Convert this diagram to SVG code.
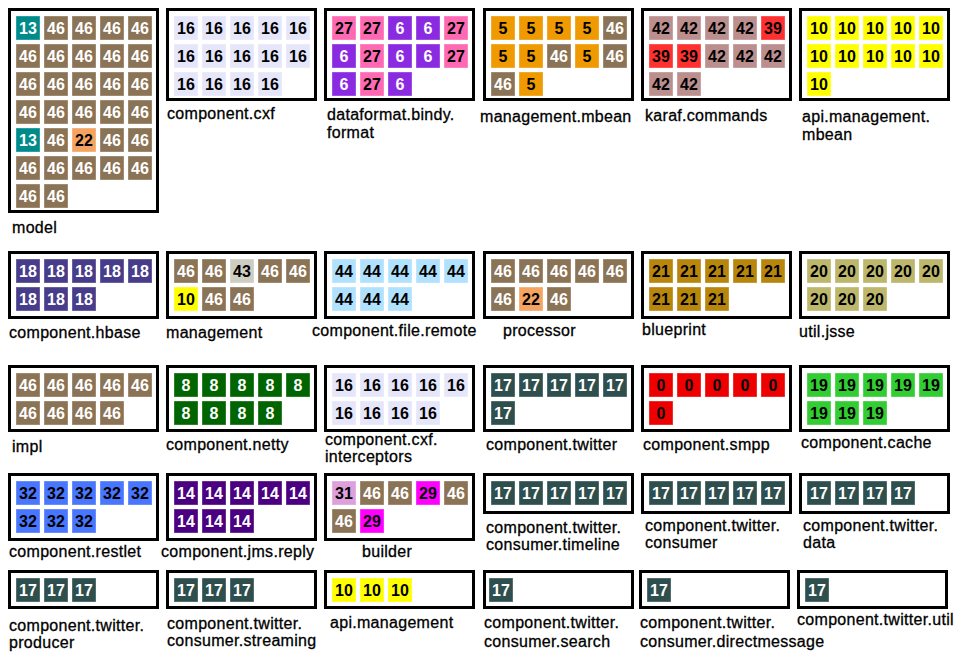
<svg xmlns="http://www.w3.org/2000/svg" width="964" height="655" viewBox="0 0 964 655">
<style>
.box{fill:#fff;stroke:#000;stroke-width:3}
.c{stroke:#fff;stroke-opacity:.35;stroke-width:1}
.n{font-family:"Liberation Sans",Arial,sans-serif;font-weight:bold;font-size:16px;text-anchor:middle}
.w{fill:#fff}.d{fill:#000}
.lb{font-family:"Liberation Sans",Arial,sans-serif;font-size:16px;fill:#000;stroke:#000;stroke-width:.3;letter-spacing:.3px}
.k13{fill:#008b8b}.k46{fill:#8b7355}.k22{fill:#f4a460}.k16{fill:#e6e6fa}.k27{fill:#ff69b4}.k6{fill:#8a2be2}
.k5{fill:#ee9a00}.k42{fill:#bc8f8f}.k39{fill:#ff3030}.k10{fill:#ffff00}.k18{fill:#483d8b}.k43{fill:#cdcdc1}
.k44{fill:#b0e2ff}.k21{fill:#b8860b}.k20{fill:#bdb76b}.k8{fill:#006400}.k17{fill:#2f4f4f}.k0{fill:#ee0000}
.k19{fill:#32cd32}.k32{fill:#4876ff}.k14{fill:#4b0082}.k31{fill:#dda0dd}.k29{fill:#ff00ff}
</style>
<rect width="964" height="655" fill="#fff"/>
<g id="connectors"/>

<g id="model">
<rect class="box" x="9.5" y="9.5" width="148" height="202"/>
<rect class="c k13" x="16" y="16" width="24" height="24"/><text class="n w" x="28" y="34">13</text>
<rect class="c k46" x="44" y="16" width="24" height="24"/><text class="n w" x="56" y="34">46</text>
<rect class="c k46" x="72" y="16" width="24" height="24"/><text class="n w" x="84" y="34">46</text>
<rect class="c k46" x="100" y="16" width="24" height="24"/><text class="n w" x="112" y="34">46</text>
<rect class="c k46" x="128" y="16" width="24" height="24"/><text class="n w" x="140" y="34">46</text>
<rect class="c k46" x="16" y="44" width="24" height="24"/><text class="n w" x="28" y="62">46</text>
<rect class="c k46" x="44" y="44" width="24" height="24"/><text class="n w" x="56" y="62">46</text>
<rect class="c k46" x="72" y="44" width="24" height="24"/><text class="n w" x="84" y="62">46</text>
<rect class="c k46" x="100" y="44" width="24" height="24"/><text class="n w" x="112" y="62">46</text>
<rect class="c k46" x="128" y="44" width="24" height="24"/><text class="n w" x="140" y="62">46</text>
<rect class="c k46" x="16" y="72" width="24" height="24"/><text class="n w" x="28" y="90">46</text>
<rect class="c k46" x="44" y="72" width="24" height="24"/><text class="n w" x="56" y="90">46</text>
<rect class="c k46" x="72" y="72" width="24" height="24"/><text class="n w" x="84" y="90">46</text>
<rect class="c k46" x="100" y="72" width="24" height="24"/><text class="n w" x="112" y="90">46</text>
<rect class="c k46" x="128" y="72" width="24" height="24"/><text class="n w" x="140" y="90">46</text>
<rect class="c k46" x="16" y="100" width="24" height="24"/><text class="n w" x="28" y="118">46</text>
<rect class="c k46" x="44" y="100" width="24" height="24"/><text class="n w" x="56" y="118">46</text>
<rect class="c k46" x="72" y="100" width="24" height="24"/><text class="n w" x="84" y="118">46</text>
<rect class="c k46" x="100" y="100" width="24" height="24"/><text class="n w" x="112" y="118">46</text>
<rect class="c k46" x="128" y="100" width="24" height="24"/><text class="n w" x="140" y="118">46</text>
<rect class="c k13" x="16" y="128" width="24" height="24"/><text class="n w" x="28" y="146">13</text>
<rect class="c k46" x="44" y="128" width="24" height="24"/><text class="n w" x="56" y="146">46</text>
<rect class="c k22" x="72" y="128" width="24" height="24"/><text class="n d" x="84" y="146">22</text>
<rect class="c k46" x="100" y="128" width="24" height="24"/><text class="n w" x="112" y="146">46</text>
<rect class="c k46" x="128" y="128" width="24" height="24"/><text class="n w" x="140" y="146">46</text>
<rect class="c k46" x="16" y="156" width="24" height="24"/><text class="n w" x="28" y="174">46</text>
<rect class="c k46" x="44" y="156" width="24" height="24"/><text class="n w" x="56" y="174">46</text>
<rect class="c k46" x="72" y="156" width="24" height="24"/><text class="n w" x="84" y="174">46</text>
<rect class="c k46" x="100" y="156" width="24" height="24"/><text class="n w" x="112" y="174">46</text>
<rect class="c k46" x="128" y="156" width="24" height="24"/><text class="n w" x="140" y="174">46</text>
<rect class="c k46" x="16" y="184" width="24" height="24"/><text class="n w" x="28" y="202">46</text>
<rect class="c k46" x="44" y="184" width="24" height="24"/><text class="n w" x="56" y="202">46</text>
<text class="lb" x="12" y="233">model</text>
</g>

<g id="component.cxf">
<rect class="box" x="167.5" y="9.5" width="148" height="90"/>
<rect class="c k16" x="174" y="16" width="24" height="24"/><text class="n d" x="186" y="34">16</text>
<rect class="c k16" x="202" y="16" width="24" height="24"/><text class="n d" x="214" y="34">16</text>
<rect class="c k16" x="230" y="16" width="24" height="24"/><text class="n d" x="242" y="34">16</text>
<rect class="c k16" x="258" y="16" width="24" height="24"/><text class="n d" x="270" y="34">16</text>
<rect class="c k16" x="286" y="16" width="24" height="24"/><text class="n d" x="298" y="34">16</text>
<rect class="c k16" x="174" y="44" width="24" height="24"/><text class="n d" x="186" y="62">16</text>
<rect class="c k16" x="202" y="44" width="24" height="24"/><text class="n d" x="214" y="62">16</text>
<rect class="c k16" x="230" y="44" width="24" height="24"/><text class="n d" x="242" y="62">16</text>
<rect class="c k16" x="258" y="44" width="24" height="24"/><text class="n d" x="270" y="62">16</text>
<rect class="c k16" x="286" y="44" width="24" height="24"/><text class="n d" x="298" y="62">16</text>
<rect class="c k16" x="174" y="72" width="24" height="24"/><text class="n d" x="186" y="90">16</text>
<rect class="c k16" x="202" y="72" width="24" height="24"/><text class="n d" x="214" y="90">16</text>
<rect class="c k16" x="230" y="72" width="24" height="24"/><text class="n d" x="242" y="90">16</text>
<rect class="c k16" x="258" y="72" width="24" height="24"/><text class="n d" x="270" y="90">16</text>
<text class="lb" x="167" y="119">component.cxf</text>
</g>

<g id="dataformat.bindy.format">
<rect class="box" x="325.5" y="9.5" width="148" height="90"/>
<rect class="c k27" x="332" y="16" width="24" height="24"/><text class="n d" x="344" y="34">27</text>
<rect class="c k27" x="360" y="16" width="24" height="24"/><text class="n d" x="372" y="34">27</text>
<rect class="c k6" x="388" y="16" width="24" height="24"/><text class="n w" x="400" y="34">6</text>
<rect class="c k6" x="416" y="16" width="24" height="24"/><text class="n w" x="428" y="34">6</text>
<rect class="c k27" x="444" y="16" width="24" height="24"/><text class="n d" x="456" y="34">27</text>
<rect class="c k6" x="332" y="44" width="24" height="24"/><text class="n w" x="344" y="62">6</text>
<rect class="c k27" x="360" y="44" width="24" height="24"/><text class="n d" x="372" y="62">27</text>
<rect class="c k6" x="388" y="44" width="24" height="24"/><text class="n w" x="400" y="62">6</text>
<rect class="c k6" x="416" y="44" width="24" height="24"/><text class="n w" x="428" y="62">6</text>
<rect class="c k27" x="444" y="44" width="24" height="24"/><text class="n d" x="456" y="62">27</text>
<rect class="c k6" x="332" y="72" width="24" height="24"/><text class="n w" x="344" y="90">6</text>
<rect class="c k27" x="360" y="72" width="24" height="24"/><text class="n d" x="372" y="90">27</text>
<rect class="c k6" x="388" y="72" width="24" height="24"/><text class="n w" x="400" y="90">6</text>
<text class="lb" x="327" y="120">dataformat.bindy.</text>
<text class="lb" x="327" y="138">format</text>
</g>

<g id="management.mbean">
<rect class="box" x="484.5" y="9.5" width="148" height="90"/>
<rect class="c k5" x="491" y="16" width="24" height="24"/><text class="n d" x="503" y="34">5</text>
<rect class="c k5" x="519" y="16" width="24" height="24"/><text class="n d" x="531" y="34">5</text>
<rect class="c k5" x="547" y="16" width="24" height="24"/><text class="n d" x="559" y="34">5</text>
<rect class="c k5" x="575" y="16" width="24" height="24"/><text class="n d" x="587" y="34">5</text>
<rect class="c k46" x="603" y="16" width="24" height="24"/><text class="n w" x="615" y="34">46</text>
<rect class="c k5" x="491" y="44" width="24" height="24"/><text class="n d" x="503" y="62">5</text>
<rect class="c k5" x="519" y="44" width="24" height="24"/><text class="n d" x="531" y="62">5</text>
<rect class="c k46" x="547" y="44" width="24" height="24"/><text class="n w" x="559" y="62">46</text>
<rect class="c k5" x="575" y="44" width="24" height="24"/><text class="n d" x="587" y="62">5</text>
<rect class="c k46" x="603" y="44" width="24" height="24"/><text class="n w" x="615" y="62">46</text>
<rect class="c k46" x="491" y="72" width="24" height="24"/><text class="n w" x="503" y="90">46</text>
<rect class="c k5" x="519" y="72" width="24" height="24"/><text class="n d" x="531" y="90">5</text>
<text class="lb" x="480" y="122">management.mbean</text>
</g>

<g id="karaf.commands">
<rect class="box" x="642.5" y="9.5" width="148" height="90"/>
<rect class="c k42" x="649" y="16" width="24" height="24"/><text class="n d" x="661" y="34">42</text>
<rect class="c k42" x="677" y="16" width="24" height="24"/><text class="n d" x="689" y="34">42</text>
<rect class="c k42" x="705" y="16" width="24" height="24"/><text class="n d" x="717" y="34">42</text>
<rect class="c k42" x="733" y="16" width="24" height="24"/><text class="n d" x="745" y="34">42</text>
<rect class="c k39" x="761" y="16" width="24" height="24"/><text class="n d" x="773" y="34">39</text>
<rect class="c k39" x="649" y="44" width="24" height="24"/><text class="n d" x="661" y="62">39</text>
<rect class="c k39" x="677" y="44" width="24" height="24"/><text class="n d" x="689" y="62">39</text>
<rect class="c k42" x="705" y="44" width="24" height="24"/><text class="n d" x="717" y="62">42</text>
<rect class="c k42" x="733" y="44" width="24" height="24"/><text class="n d" x="745" y="62">42</text>
<rect class="c k42" x="761" y="44" width="24" height="24"/><text class="n d" x="773" y="62">42</text>
<rect class="c k42" x="649" y="72" width="24" height="24"/><text class="n d" x="661" y="90">42</text>
<rect class="c k42" x="677" y="72" width="24" height="24"/><text class="n d" x="689" y="90">42</text>
<text class="lb" x="645" y="121">karaf.commands</text>
</g>

<g id="api.management.mbean">
<rect class="box" x="800.5" y="9.5" width="148" height="90"/>
<rect class="c k10" x="807" y="16" width="24" height="24"/><text class="n d" x="819" y="34">10</text>
<rect class="c k10" x="835" y="16" width="24" height="24"/><text class="n d" x="847" y="34">10</text>
<rect class="c k10" x="863" y="16" width="24" height="24"/><text class="n d" x="875" y="34">10</text>
<rect class="c k10" x="891" y="16" width="24" height="24"/><text class="n d" x="903" y="34">10</text>
<rect class="c k10" x="919" y="16" width="24" height="24"/><text class="n d" x="931" y="34">10</text>
<rect class="c k10" x="807" y="44" width="24" height="24"/><text class="n d" x="819" y="62">10</text>
<rect class="c k10" x="835" y="44" width="24" height="24"/><text class="n d" x="847" y="62">10</text>
<rect class="c k10" x="863" y="44" width="24" height="24"/><text class="n d" x="875" y="62">10</text>
<rect class="c k10" x="891" y="44" width="24" height="24"/><text class="n d" x="903" y="62">10</text>
<rect class="c k10" x="919" y="44" width="24" height="24"/><text class="n d" x="931" y="62">10</text>
<rect class="c k10" x="807" y="72" width="24" height="24"/><text class="n d" x="819" y="90">10</text>
<text class="lb" x="802" y="122">api.management.</text>
<text class="lb" x="802" y="140">mbean</text>
</g>

<g id="component.hbase">
<rect class="box" x="9.5" y="252.5" width="148" height="65"/>
<rect class="c k18" x="16" y="259" width="24" height="24"/><text class="n w" x="28" y="277">18</text>
<rect class="c k18" x="44" y="259" width="24" height="24"/><text class="n w" x="56" y="277">18</text>
<rect class="c k18" x="72" y="259" width="24" height="24"/><text class="n w" x="84" y="277">18</text>
<rect class="c k18" x="100" y="259" width="24" height="24"/><text class="n w" x="112" y="277">18</text>
<rect class="c k18" x="128" y="259" width="24" height="24"/><text class="n w" x="140" y="277">18</text>
<rect class="c k18" x="16" y="287" width="24" height="24"/><text class="n w" x="28" y="305">18</text>
<rect class="c k18" x="44" y="287" width="24" height="24"/><text class="n w" x="56" y="305">18</text>
<rect class="c k18" x="72" y="287" width="24" height="24"/><text class="n w" x="84" y="305">18</text>
<text class="lb" x="9" y="338">component.hbase</text>
</g>

<g id="management">
<rect class="box" x="167.5" y="252.5" width="148" height="65"/>
<rect class="c k46" x="174" y="259" width="24" height="24"/><text class="n w" x="186" y="277">46</text>
<rect class="c k46" x="202" y="259" width="24" height="24"/><text class="n w" x="214" y="277">46</text>
<rect class="c k43" x="230" y="259" width="24" height="24"/><text class="n d" x="242" y="277">43</text>
<rect class="c k46" x="258" y="259" width="24" height="24"/><text class="n w" x="270" y="277">46</text>
<rect class="c k46" x="286" y="259" width="24" height="24"/><text class="n w" x="298" y="277">46</text>
<rect class="c k10" x="174" y="287" width="24" height="24"/><text class="n d" x="186" y="305">10</text>
<rect class="c k46" x="202" y="287" width="24" height="24"/><text class="n w" x="214" y="305">46</text>
<rect class="c k46" x="230" y="287" width="24" height="24"/><text class="n w" x="242" y="305">46</text>
<text class="lb" x="166" y="338">management</text>
</g>

<g id="component.file.remote">
<rect class="box" x="325.5" y="252.5" width="148" height="65"/>
<rect class="c k44" x="332" y="259" width="24" height="24"/><text class="n d" x="344" y="277">44</text>
<rect class="c k44" x="360" y="259" width="24" height="24"/><text class="n d" x="372" y="277">44</text>
<rect class="c k44" x="388" y="259" width="24" height="24"/><text class="n d" x="400" y="277">44</text>
<rect class="c k44" x="416" y="259" width="24" height="24"/><text class="n d" x="428" y="277">44</text>
<rect class="c k44" x="444" y="259" width="24" height="24"/><text class="n d" x="456" y="277">44</text>
<rect class="c k44" x="332" y="287" width="24" height="24"/><text class="n d" x="344" y="305">44</text>
<rect class="c k44" x="360" y="287" width="24" height="24"/><text class="n d" x="372" y="305">44</text>
<rect class="c k44" x="388" y="287" width="24" height="24"/><text class="n d" x="400" y="305">44</text>
<text class="lb" x="312" y="336">component.file.remote</text>
</g>

<g id="processor">
<rect class="box" x="484.5" y="252.5" width="148" height="65"/>
<rect class="c k46" x="491" y="259" width="24" height="24"/><text class="n w" x="503" y="277">46</text>
<rect class="c k46" x="519" y="259" width="24" height="24"/><text class="n w" x="531" y="277">46</text>
<rect class="c k46" x="547" y="259" width="24" height="24"/><text class="n w" x="559" y="277">46</text>
<rect class="c k46" x="575" y="259" width="24" height="24"/><text class="n w" x="587" y="277">46</text>
<rect class="c k46" x="603" y="259" width="24" height="24"/><text class="n w" x="615" y="277">46</text>
<rect class="c k46" x="491" y="287" width="24" height="24"/><text class="n w" x="503" y="305">46</text>
<rect class="c k22" x="519" y="287" width="24" height="24"/><text class="n d" x="531" y="305">22</text>
<rect class="c k46" x="547" y="287" width="24" height="24"/><text class="n w" x="559" y="305">46</text>
<text class="lb" x="503" y="336">processor</text>
</g>

<g id="blueprint">
<rect class="box" x="642.5" y="252.5" width="148" height="65"/>
<rect class="c k21" x="649" y="259" width="24" height="24"/><text class="n d" x="661" y="277">21</text>
<rect class="c k21" x="677" y="259" width="24" height="24"/><text class="n d" x="689" y="277">21</text>
<rect class="c k21" x="705" y="259" width="24" height="24"/><text class="n d" x="717" y="277">21</text>
<rect class="c k21" x="733" y="259" width="24" height="24"/><text class="n d" x="745" y="277">21</text>
<rect class="c k21" x="761" y="259" width="24" height="24"/><text class="n d" x="773" y="277">21</text>
<rect class="c k21" x="649" y="287" width="24" height="24"/><text class="n d" x="661" y="305">21</text>
<rect class="c k21" x="677" y="287" width="24" height="24"/><text class="n d" x="689" y="305">21</text>
<rect class="c k21" x="705" y="287" width="24" height="24"/><text class="n d" x="717" y="305">21</text>
<text class="lb" x="642" y="335">blueprint</text>
</g>

<g id="util.jsse">
<rect class="box" x="800.5" y="252.5" width="148" height="65"/>
<rect class="c k20" x="807" y="259" width="24" height="24"/><text class="n d" x="819" y="277">20</text>
<rect class="c k20" x="835" y="259" width="24" height="24"/><text class="n d" x="847" y="277">20</text>
<rect class="c k20" x="863" y="259" width="24" height="24"/><text class="n d" x="875" y="277">20</text>
<rect class="c k20" x="891" y="259" width="24" height="24"/><text class="n d" x="903" y="277">20</text>
<rect class="c k20" x="919" y="259" width="24" height="24"/><text class="n d" x="931" y="277">20</text>
<rect class="c k20" x="807" y="287" width="24" height="24"/><text class="n d" x="819" y="305">20</text>
<rect class="c k20" x="835" y="287" width="24" height="24"/><text class="n d" x="847" y="305">20</text>
<rect class="c k20" x="863" y="287" width="24" height="24"/><text class="n d" x="875" y="305">20</text>
<text class="lb" x="799" y="337">util.jsse</text>
</g>

<g id="impl">
<rect class="box" x="9.5" y="366.5" width="148" height="64"/>
<rect class="c k46" x="16" y="373" width="24" height="24"/><text class="n w" x="28" y="391">46</text>
<rect class="c k46" x="44" y="373" width="24" height="24"/><text class="n w" x="56" y="391">46</text>
<rect class="c k46" x="72" y="373" width="24" height="24"/><text class="n w" x="84" y="391">46</text>
<rect class="c k46" x="100" y="373" width="24" height="24"/><text class="n w" x="112" y="391">46</text>
<rect class="c k46" x="128" y="373" width="24" height="24"/><text class="n w" x="140" y="391">46</text>
<rect class="c k46" x="16" y="401" width="24" height="24"/><text class="n w" x="28" y="419">46</text>
<rect class="c k46" x="44" y="401" width="24" height="24"/><text class="n w" x="56" y="419">46</text>
<rect class="c k46" x="72" y="401" width="24" height="24"/><text class="n w" x="84" y="419">46</text>
<rect class="c k46" x="100" y="401" width="24" height="24"/><text class="n w" x="112" y="419">46</text>
<text class="lb" x="12" y="452">impl</text>
</g>

<g id="component.netty">
<rect class="box" x="167.5" y="366.5" width="148" height="64"/>
<rect class="c k8" x="174" y="373" width="24" height="24"/><text class="n w" x="186" y="391">8</text>
<rect class="c k8" x="202" y="373" width="24" height="24"/><text class="n w" x="214" y="391">8</text>
<rect class="c k8" x="230" y="373" width="24" height="24"/><text class="n w" x="242" y="391">8</text>
<rect class="c k8" x="258" y="373" width="24" height="24"/><text class="n w" x="270" y="391">8</text>
<rect class="c k8" x="286" y="373" width="24" height="24"/><text class="n w" x="298" y="391">8</text>
<rect class="c k8" x="174" y="401" width="24" height="24"/><text class="n w" x="186" y="419">8</text>
<rect class="c k8" x="202" y="401" width="24" height="24"/><text class="n w" x="214" y="419">8</text>
<rect class="c k8" x="230" y="401" width="24" height="24"/><text class="n w" x="242" y="419">8</text>
<rect class="c k8" x="258" y="401" width="24" height="24"/><text class="n w" x="270" y="419">8</text>
<text class="lb" x="166" y="450">component.netty</text>
</g>

<g id="component.cxf.interceptors">
<rect class="box" x="325.5" y="366.5" width="148" height="64"/>
<rect class="c k16" x="332" y="373" width="24" height="24"/><text class="n d" x="344" y="391">16</text>
<rect class="c k16" x="360" y="373" width="24" height="24"/><text class="n d" x="372" y="391">16</text>
<rect class="c k16" x="388" y="373" width="24" height="24"/><text class="n d" x="400" y="391">16</text>
<rect class="c k16" x="416" y="373" width="24" height="24"/><text class="n d" x="428" y="391">16</text>
<rect class="c k16" x="444" y="373" width="24" height="24"/><text class="n d" x="456" y="391">16</text>
<rect class="c k16" x="332" y="401" width="24" height="24"/><text class="n d" x="344" y="419">16</text>
<rect class="c k16" x="360" y="401" width="24" height="24"/><text class="n d" x="372" y="419">16</text>
<rect class="c k16" x="388" y="401" width="24" height="24"/><text class="n d" x="400" y="419">16</text>
<rect class="c k16" x="416" y="401" width="24" height="24"/><text class="n d" x="428" y="419">16</text>
<text class="lb" x="325" y="445">component.cxf.</text>
<text class="lb" x="325" y="462">interceptors</text>
</g>

<g id="component.twitter">
<rect class="box" x="484.5" y="366.5" width="148" height="64"/>
<rect class="c k17" x="491" y="373" width="24" height="24"/><text class="n w" x="503" y="391">17</text>
<rect class="c k17" x="519" y="373" width="24" height="24"/><text class="n w" x="531" y="391">17</text>
<rect class="c k17" x="547" y="373" width="24" height="24"/><text class="n w" x="559" y="391">17</text>
<rect class="c k17" x="575" y="373" width="24" height="24"/><text class="n w" x="587" y="391">17</text>
<rect class="c k17" x="603" y="373" width="24" height="24"/><text class="n w" x="615" y="391">17</text>
<rect class="c k17" x="491" y="401" width="24" height="24"/><text class="n w" x="503" y="419">17</text>
<text class="lb" x="486" y="450">component.twitter</text>
</g>

<g id="component.smpp">
<rect class="box" x="642.5" y="366.5" width="148" height="64"/>
<rect class="c k0" x="649" y="373" width="24" height="24"/><text class="n d" x="661" y="391">0</text>
<rect class="c k0" x="677" y="373" width="24" height="24"/><text class="n d" x="689" y="391">0</text>
<rect class="c k0" x="705" y="373" width="24" height="24"/><text class="n d" x="717" y="391">0</text>
<rect class="c k0" x="733" y="373" width="24" height="24"/><text class="n d" x="745" y="391">0</text>
<rect class="c k0" x="761" y="373" width="24" height="24"/><text class="n d" x="773" y="391">0</text>
<rect class="c k0" x="649" y="401" width="24" height="24"/><text class="n d" x="661" y="419">0</text>
<text class="lb" x="643" y="450">component.smpp</text>
</g>

<g id="component.cache">
<rect class="box" x="800.5" y="366.5" width="148" height="64"/>
<rect class="c k19" x="807" y="373" width="24" height="24"/><text class="n d" x="819" y="391">19</text>
<rect class="c k19" x="835" y="373" width="24" height="24"/><text class="n d" x="847" y="391">19</text>
<rect class="c k19" x="863" y="373" width="24" height="24"/><text class="n d" x="875" y="391">19</text>
<rect class="c k19" x="891" y="373" width="24" height="24"/><text class="n d" x="903" y="391">19</text>
<rect class="c k19" x="919" y="373" width="24" height="24"/><text class="n d" x="931" y="391">19</text>
<rect class="c k19" x="807" y="401" width="24" height="24"/><text class="n d" x="819" y="419">19</text>
<rect class="c k19" x="835" y="401" width="24" height="24"/><text class="n d" x="847" y="419">19</text>
<rect class="c k19" x="863" y="401" width="24" height="24"/><text class="n d" x="875" y="419">19</text>
<text class="lb" x="801" y="448">component.cache</text>
</g>

<g id="component.restlet">
<rect class="box" x="9.5" y="474.5" width="148" height="65"/>
<rect class="c k32" x="16" y="481" width="24" height="24"/><text class="n d" x="28" y="499">32</text>
<rect class="c k32" x="44" y="481" width="24" height="24"/><text class="n d" x="56" y="499">32</text>
<rect class="c k32" x="72" y="481" width="24" height="24"/><text class="n d" x="84" y="499">32</text>
<rect class="c k32" x="100" y="481" width="24" height="24"/><text class="n d" x="112" y="499">32</text>
<rect class="c k32" x="128" y="481" width="24" height="24"/><text class="n d" x="140" y="499">32</text>
<rect class="c k32" x="16" y="509" width="24" height="24"/><text class="n d" x="28" y="527">32</text>
<rect class="c k32" x="44" y="509" width="24" height="24"/><text class="n d" x="56" y="527">32</text>
<rect class="c k32" x="72" y="509" width="24" height="24"/><text class="n d" x="84" y="527">32</text>
<text class="lb" x="9" y="557">component.restlet</text>
</g>

<g id="component.jms.reply">
<rect class="box" x="167.5" y="474.5" width="148" height="65"/>
<rect class="c k14" x="174" y="481" width="24" height="24"/><text class="n w" x="186" y="499">14</text>
<rect class="c k14" x="202" y="481" width="24" height="24"/><text class="n w" x="214" y="499">14</text>
<rect class="c k14" x="230" y="481" width="24" height="24"/><text class="n w" x="242" y="499">14</text>
<rect class="c k14" x="258" y="481" width="24" height="24"/><text class="n w" x="270" y="499">14</text>
<rect class="c k14" x="286" y="481" width="24" height="24"/><text class="n w" x="298" y="499">14</text>
<rect class="c k14" x="174" y="509" width="24" height="24"/><text class="n w" x="186" y="527">14</text>
<rect class="c k14" x="202" y="509" width="24" height="24"/><text class="n w" x="214" y="527">14</text>
<rect class="c k14" x="230" y="509" width="24" height="24"/><text class="n w" x="242" y="527">14</text>
<text class="lb" x="161" y="557">component.jms.reply</text>
</g>

<g id="builder">
<rect class="box" x="325.5" y="474.5" width="148" height="65"/>
<rect class="c k31" x="332" y="481" width="24" height="24"/><text class="n d" x="344" y="499">31</text>
<rect class="c k46" x="360" y="481" width="24" height="24"/><text class="n w" x="372" y="499">46</text>
<rect class="c k46" x="388" y="481" width="24" height="24"/><text class="n w" x="400" y="499">46</text>
<rect class="c k29" x="416" y="481" width="24" height="24"/><text class="n d" x="428" y="499">29</text>
<rect class="c k46" x="444" y="481" width="24" height="24"/><text class="n w" x="456" y="499">46</text>
<rect class="c k46" x="332" y="509" width="24" height="24"/><text class="n w" x="344" y="527">46</text>
<rect class="c k29" x="360" y="509" width="24" height="24"/><text class="n d" x="372" y="527">29</text>
<text class="lb" x="362" y="557">builder</text>
</g>

<g id="component.twitter.consumer.timeline">
<rect class="box" x="484.5" y="474.5" width="148" height="38"/>
<rect class="c k17" x="491" y="481" width="24" height="24"/><text class="n w" x="503" y="499">17</text>
<rect class="c k17" x="519" y="481" width="24" height="24"/><text class="n w" x="531" y="499">17</text>
<rect class="c k17" x="547" y="481" width="24" height="24"/><text class="n w" x="559" y="499">17</text>
<rect class="c k17" x="575" y="481" width="24" height="24"/><text class="n w" x="587" y="499">17</text>
<rect class="c k17" x="603" y="481" width="24" height="24"/><text class="n w" x="615" y="499">17</text>
<text class="lb" x="486" y="533">component.twitter.</text>
<text class="lb" x="486" y="550">consumer.timeline</text>
</g>

<g id="component.twitter.consumer">
<rect class="box" x="642.5" y="474.5" width="148" height="38"/>
<rect class="c k17" x="649" y="481" width="24" height="24"/><text class="n w" x="661" y="499">17</text>
<rect class="c k17" x="677" y="481" width="24" height="24"/><text class="n w" x="689" y="499">17</text>
<rect class="c k17" x="705" y="481" width="24" height="24"/><text class="n w" x="717" y="499">17</text>
<rect class="c k17" x="733" y="481" width="24" height="24"/><text class="n w" x="745" y="499">17</text>
<rect class="c k17" x="761" y="481" width="24" height="24"/><text class="n w" x="773" y="499">17</text>
<text class="lb" x="645" y="531">component.twitter.</text>
<text class="lb" x="645" y="548">consumer</text>
</g>

<g id="component.twitter.data">
<rect class="box" x="800.5" y="474.5" width="148" height="38"/>
<rect class="c k17" x="807" y="481" width="24" height="24"/><text class="n w" x="819" y="499">17</text>
<rect class="c k17" x="835" y="481" width="24" height="24"/><text class="n w" x="847" y="499">17</text>
<rect class="c k17" x="863" y="481" width="24" height="24"/><text class="n w" x="875" y="499">17</text>
<rect class="c k17" x="891" y="481" width="24" height="24"/><text class="n w" x="903" y="499">17</text>
<text class="lb" x="803" y="531">component.twitter.</text>
<text class="lb" x="803" y="548">data</text>
</g>

<g id="component.twitter.producer">
<rect class="box" x="9.5" y="571.5" width="148" height="36"/>
<rect class="c k17" x="16" y="578" width="24" height="24"/><text class="n w" x="28" y="596">17</text>
<rect class="c k17" x="44" y="578" width="24" height="24"/><text class="n w" x="56" y="596">17</text>
<rect class="c k17" x="72" y="578" width="24" height="24"/><text class="n w" x="84" y="596">17</text>
<text class="lb" x="9" y="631">component.twitter.</text>
<text class="lb" x="9" y="648">producer</text>
</g>

<g id="component.twitter.consumer.streaming">
<rect class="box" x="167.5" y="571.5" width="148" height="36"/>
<rect class="c k17" x="174" y="578" width="24" height="24"/><text class="n w" x="186" y="596">17</text>
<rect class="c k17" x="202" y="578" width="24" height="24"/><text class="n w" x="214" y="596">17</text>
<rect class="c k17" x="230" y="578" width="24" height="24"/><text class="n w" x="242" y="596">17</text>
<text class="lb" x="167" y="629">component.twitter.</text>
<text class="lb" x="167" y="646">consumer.streaming</text>
</g>

<g id="api.management">
<rect class="box" x="325.5" y="571.5" width="148" height="36"/>
<rect class="c k10" x="332" y="578" width="24" height="24"/><text class="n d" x="344" y="596">10</text>
<rect class="c k10" x="360" y="578" width="24" height="24"/><text class="n d" x="372" y="596">10</text>
<rect class="c k10" x="388" y="578" width="24" height="24"/><text class="n d" x="400" y="596">10</text>
<text class="lb" x="330" y="628">api.management</text>
</g>

<g id="component.twitter.consumer.search">
<rect class="box" x="484.5" y="571.5" width="148" height="36"/>
<rect class="c k17" x="489" y="578" width="24" height="24"/><text class="n w" x="501" y="596">17</text>
<text class="lb" x="484" y="628">component.twitter.</text>
<text class="lb" x="484" y="647">consumer.search</text>
</g>

<g id="component.twitter.consumer.directmessage">
<rect class="box" x="640.5" y="571.5" width="148" height="36"/>
<rect class="c k17" x="647" y="578" width="24" height="24"/><text class="n w" x="659" y="596">17</text>
<text class="lb" x="640" y="628">component.twitter.</text>
<text class="lb" x="640" y="647">consumer.directmessage</text>
</g>

<g id="component.twitter.util">
<rect class="box" x="798.5" y="571.5" width="148" height="36"/>
<rect class="c k17" x="805" y="578" width="24" height="24"/><text class="n w" x="817" y="596">17</text>
<text class="lb" x="797" y="625">component.twitter.util</text>
</g>
</svg>
